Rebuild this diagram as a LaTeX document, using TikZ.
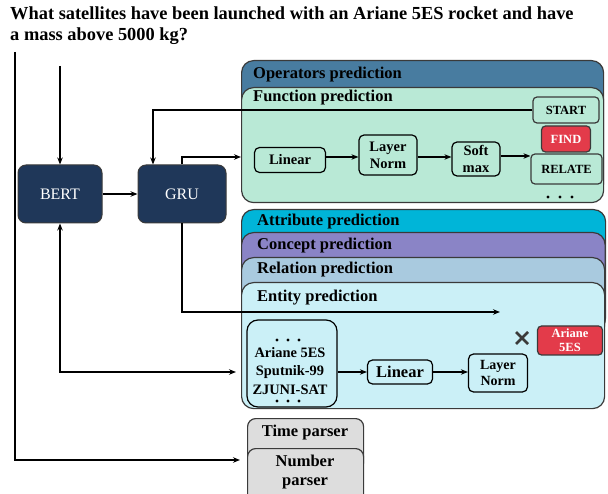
\documentclass[tikz,border=0pt]{standalone}
\usepackage{fontspec}
\setmainfont{Liberation Serif}
\usetikzlibrary{arrows.meta,calc}
\definecolor{navy}{HTML}{1F3759}
\definecolor{opblue}{HTML}{487CA0}
\definecolor{mint}{HTML}{B9E9D6}
\definecolor{attcyan}{HTML}{00B5D8}
\definecolor{conpurple}{HTML}{8A84C6}
\definecolor{relblue}{HTML}{A9CADF}
\definecolor{entcyan}{HTML}{CBF0F7}
\definecolor{redbox}{HTML}{E33B4A}
\definecolor{parsergray}{HTML}{DDDDDD}
\definecolor{edge}{HTML}{3A3A3A}
\begin{document}
\begin{tikzpicture}[x=1pt,y=-1pt,
  bigbox/.style={draw=edge,line width=1.2pt,rounded corners=12pt,anchor=north west,inner sep=0pt},
  title/.style={anchor=west,inner sep=0pt,font=\fontsize{16.5}{18}\selectfont\bfseries},
  smallbox/.style={draw=black,line width=1.2pt,rounded corners=5pt,inner sep=0pt,align=center,
    font=\fontsize{14.5}{17}\selectfont\bfseries},
  tagbox/.style={draw=edge,line width=1.2pt,rounded corners=4pt,inner sep=0pt,align=center,
    font=\fontsize{12.5}{13.5}\selectfont\bfseries},
  navybox/.style={draw=edge,line width=1pt,fill=navy,rounded corners=8pt,inner sep=0pt,
    text=white,minimum width=84pt,minimum height=58pt,font=\fontsize{16}{18}\selectfont},
  arr/.style={line width=1.3pt,-{Stealth[length=7pt,width=5.5pt]}},
  dbarr/.style={line width=1.3pt,{Stealth[length=7pt,width=5.5pt]}-{Stealth[length=7pt,width=5.5pt]}},
  dot/.style={fill=black,draw=none}
]
\useasboundingbox (0,0) rectangle (608,494);

% question
\node[anchor=north west,align=left,inner sep=0pt,font=\fontsize{18.4}{21}\selectfont\bfseries] (q) at (10,7)
  {What satellites have been launched with an Ariane 5ES rocket and have\\a mass above 5000 kg?};

% navy boxes
\node[navybox] (bert) at (60,194) {BERT};
\node[navybox,minimum width=88pt] (gru) at (182,194) {GRU};

% upper stack
\node[bigbox,fill=opblue,minimum width=362pt,minimum height=135pt] (ops) at (241,60) {};
\node[title] (opst) at (253,75) {Operators prediction};
\node[bigbox,fill=mint,minimum width=362pt,minimum height=115pt] (fun) at (241,87) {};
\node[title] (funt) at (253,98) {Function prediction};

\node[smallbox,minimum width=71pt,minimum height=25pt] (flin) at (290,160) {Linear};
\node[smallbox,minimum width=58pt,minimum height=40pt] (fln) at (388,155) {Layer\\Norm};
\node[smallbox,minimum width=48pt,minimum height=34pt] (fsm) at (476,159) {Soft\\max};
\node[tagbox,minimum width=66pt,minimum height=26pt] (start) at (566,110) {START};
\node[tagbox,fill=redbox,text=white,minimum width=49pt,minimum height=26pt] (find) at (566,139) {FIND};
\node[tagbox,minimum width=71pt,minimum height=30pt] (relate) at (566.5,169) {RELATE};
\foreach \dx in {548,560,572} \fill[dot] (\dx,197) circle (1.7pt);

\draw[arr] (flin.east |- 0,157) -- (fln.west |- 0,157);
\draw[arr] (fln.east |- 0,157) -- (fsm.west |- 0,157);
\draw[arr] (fsm.east |- 0,156) -- (relate.west |- 0,156);

% lower stack
\node[bigbox,fill=attcyan,minimum width=364pt,minimum height=120pt] (att) at (241,209) {};
\node[title] (attt) at (257,222) {Attribute prediction};
\node[bigbox,fill=conpurple,minimum width=363.5pt,minimum height=100pt] (con) at (241,232) {};
\node[title] (cont) at (257,246) {Concept prediction};
\node[bigbox,fill=relblue,minimum width=363pt,minimum height=80pt] (rel) at (241,257) {};
\node[title] (relt) at (257,270) {Relation prediction};
\node[bigbox,fill=entcyan,minimum width=363pt,minimum height=126pt] (ent) at (241,282) {};
\node[title] (entt) at (257,298) {Entity prediction};

\node[draw=black,line width=1.2pt,rounded corners=11pt,minimum width=90pt,minimum height=87pt,inner sep=0pt] (list) at (292,363.5) {};
\node[align=center,inner sep=0pt,font=\fontsize{14.4}{18.3}\selectfont\bfseries] (listt) at (290,371)
  {Ariane 5ES\\Sputnik-99\\ZJUNI-SAT};
\foreach \dx in {277,288,299} {\fill[dot] (\dx,340) circle (1.7pt); \fill[dot] (\dx,401) circle (1.7pt);}
\node[smallbox,minimum width=65pt,minimum height=24pt,font=\fontsize{16.5}{18}\selectfont\bfseries] (elin) at (400,372) {Linear};
\node[smallbox,minimum width=59pt,minimum height=38pt,font=\fontsize{14}{16.5}\selectfont\bfseries] (eln) at (498,373) {Layer\\Norm};
\node[tagbox,fill=redbox,text=white,minimum width=65pt,minimum height=29pt,font=\fontsize{12.5}{14}\selectfont\bfseries] (ariane) at (570,340.5) {Ariane\\5ES};
\coordinate (xm) at (522,338);
\draw[line width=2.6pt,draw=edge] ($(xm)+(-6,-6)$) -- ($(xm)+(6,6)$) ($(xm)+(-6,6)$) -- ($(xm)+(6,-6)$);

\draw[arr] (list.east |- 0,372) -- (elin.west |- 0,372);
\draw[arr] (elin.east |- 0,372) -- (eln.west |- 0,372);

% parsers
\node[draw=edge,line width=1.2pt,fill=parsergray,rounded corners=8pt,minimum width=116pt,minimum height=52pt,anchor=north west] (time) at (247,418) {};
\node[title,anchor=center] (timet) at (305,433) {Time parser};
\node[draw=edge,line width=1.2pt,fill=parsergray,rounded corners=8pt,minimum width=116pt,minimum height=70pt,anchor=north west] (num) at (247,448) {};
\node[align=center,inner sep=0pt,font=\fontsize{16.5}{19}\selectfont\bfseries] (numt) at (305,472) {Number\\parser};

% connectors
\coordinate (qin) at (60,66);
\coordinate (ltop) at (15,52);
\coordinate (numin) at (240,460);
\coordinate (entin) at (500,312);
\coordinate (listin) at (236,372);
\coordinate (funin) at (241,157);
\draw[arr] (qin) -- (bert.north);
\draw[arr] (bert.east) -- (gru.west);
\draw[arr] (ltop) |- (numin);
\draw[arr] (start.west) -| ([xshift=-29pt]gru.north);
\draw[arr] (gru.north) |- (funin);
\draw[arr] (gru.south) |- (entin);
\draw[dbarr] (bert.south) |- (listin);
\end{tikzpicture}
\end{document}
